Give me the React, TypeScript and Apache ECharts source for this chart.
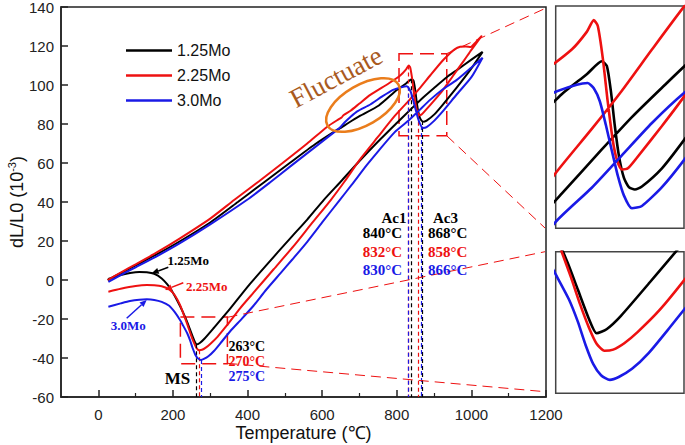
import React, { useEffect, useRef } from "react";
import * as echarts from "echarts";

type Pt = [number, number];

const seriesNames = ["1.25Mo", "2.25Mo", "3.0Mo"];
const seriesColors = ["#000000", "#ee1111", "#1a1ae6"];

// heating branches (temperature °C, dL/L0 ×10^-3)
const heating125: Pt[] = [
  [25, 0], [60, 3.5], [100, 7.5], [160, 13.5], [220, 20], [300, 29.5], [374, 40], [440, 49.5],
  [513, 60], [580, 69.5], [640, 77], [650, 78], [670, 80.5], [700, 84], [752, 89.5], [800, 97.4],
  [825, 100.8], [840, 103], [845, 102.2], [849, 98], [853, 92], [857, 87], [862, 83.2], [867, 81.6],
  [873, 81.2], [880, 81.7], [900, 84.8], [922, 89.6], [960, 98.5], [1000, 108.5], [1030, 117],
];
const cooling125: Pt[] = [
  [1030, 117], [1000, 113], [960, 107.5], [934, 104], [900, 98.5], [870, 93.5], [840, 88], [800, 80.5],
  [750, 71], [700, 61], [650, 50.5], [604, 41], [560, 31], [515, 21.5], [450, 7.5], [400, -3.5],
  [350, -15.5], [310, -24.5], [285, -30], [272, -32.3], [263, -33], [256, -30.5], [246, -25.5],
  [237, -21], [228, -17], [219, -13.3], [200, -6.5], [185, -2.3], [170, 0.8], [150, 3.2], [130, 4],
  [110, 4.1], [85, 3.6], [60, 2.6], [27, 0.5],
];
const heating225: Pt[] = [
  [25, 0], [60, 3.8], [100, 8], [160, 14.5], [220, 21.5], [300, 31.5], [364, 41], [430, 50.5],
  [494, 60], [560, 70], [613, 78.5], [645, 82.5], [652, 83.3], [657, 84.5], [676, 86.8], [700, 90.5],
  [729, 94.9], [779, 100.9], [810, 105], [825, 108], [832, 110], [836, 109], [841, 103.5], [846, 96],
  [851, 89.5], [855, 86.3], [860, 84.6], [866, 84.8], [875, 86.6], [900, 92], [922, 97], [950, 104.5],
  [980, 112.5], [1000, 118], [1027, 125],
];
const cooling225: Pt[] = [
  [1027, 125], [1012, 122], [998, 119.5], [985, 119.8], [970, 119.6], [955, 118.3], [940, 115.8],
  [922, 112.3], [890, 105], [860, 98], [830, 91.5], [794, 84], [750, 73.5], [700, 61.5], [660, 50.5],
  [623, 41], [570, 28.5], [524, 17.5], [470, 5.5], [416, -6.5], [380, -14.5], [345, -23.2], [320, -29],
  [300, -32.8], [288, -34.7], [278, -35.8], [270, -36], [263, -34.8], [256, -32], [248, -28], [240, -23.5],
  [231, -18.8], [219, -12.8], [205, -7.8], [190, -4.8], [170, -3.2], [150, -2.7], [130, -2.6],
  [100, -3.1], [60, -4.5], [27, -6],
];
const heating30: Pt[] = [
  [27, -1], [60, 2.5], [100, 6.5], [160, 12.5], [220, 19], [300, 28.5], [398, 41], [460, 50],
  [513, 58], [580, 68], [640, 77], [650, 78.6], [660, 80.8], [675, 83.5], [694, 86.5], [729, 90],
  [760, 94], [790, 97.5], [815, 99], [826, 99.3], [832, 98.4], [838, 96.2], [844, 92.2], [850, 87.8],
  [856, 83.5], [862, 80.2], [870, 78], [880, 78.4], [900, 81.6], [922, 86.2], [960, 95], [1000, 104],
  [1030, 114],
];
const cooling30: Pt[] = [
  [1030, 114], [1000, 109], [960, 102.5], [922, 97.6], [890, 92.5], [860, 87], [830, 81.5],
  [794, 75.7], [750, 66], [720, 59], [680, 49], [647, 41], [600, 29.5], [560, 19.6], [520, 10.5],
  [488, 3.4], [450, -5], [416, -13.2], [385, -19.8], [353, -26.4], [330, -31.8], [310, -36.4],
  [295, -39.1], [283, -40.5], [275, -41], [267, -40.2], [260, -38.3], [253, -35], [246, -31],
  [238, -27.2], [226, -22.9], [219, -20.5], [205, -16.5], [190, -13.2], [170, -11.2], [150, -10.2],
  [130, -9.9], [110, -10.1], [85, -10.8], [60, -12], [27, -13.7],
];

// transformation temperatures and the curve value where the marker line starts
const ac1Temps = [840, 832, 830];
const ac1Tops = [103, 110, 99.1];
const ac3Temps = [868, 858, 866];
const ac3Tops = [81.6, 84.7, 79];
const msTemps = [263, 270, 275];
const msTops = [-33, -36, -41];

// axes
const xRange = [-100, 1200];
const yRange = [-60, 140];
const xMajorTicks = [0, 200, 400, 600, 800, 1000, 1200];
const xMinorTicks = [100, 300, 500, 700, 900, 1100];

// zoom boxes (data coords) and the inset windows
const upperBoxT = [806, 934];
const upperBoxV = [74, 116];
const lowerBoxT = [220, 346];
const lowerBoxV = [-43, -19];
const upperInsetT = [794, 922];
const upperInsetV = [74.6, 112.4];
const lowerInsetT = [226, 342];
const lowerInsetV = [-43.3, -19];

const curves: Pt[][] = [
  [...heating125, ...cooling125],
  [...heating225, ...cooling225],
  [...heating30, ...cooling30],
];

const RED = "#ee1111";
const BLUE = "#1a1ae6";
const SERIF = '"Liberation Serif", "Times New Roman", serif';

function arrow(x1: number, y1: number, x2: number, y2: number, color: string) {
  const dx = x2 - x1;
  const dy = y2 - y1;
  const len = Math.hypot(dx, dy);
  const ux = dx / len;
  const uy = dy / len;
  const hl = 7;
  const hw = 3;
  const bx = x2 - ux * hl;
  const by = y2 - uy * hl;
  return [
    { type: "line", z: 100, shape: { x1, y1, x2: bx, y2: by }, style: { stroke: color, lineWidth: 1.5 } },
    {
      type: "polygon",
      z: 100,
      shape: { points: [[x2, y2], [bx - uy * hw, by + ux * hw], [bx + uy * hw, by - ux * hw]] },
      style: { fill: color },
    },
  ];
}

function txt(text: string, x: number, y: number, color: string, font: string, align = "center") {
  return {
    type: "text",
    z: 100,
    x,
    y,
    style: { text, fill: color, font, align, verticalAlign: "middle" },
  };
}

export default function App() {
  const ref = useRef<HTMLDivElement>(null);

  useEffect(() => {
    document.body.style.margin = "0";
    const chart = echarts.init(ref.current!, undefined, { renderer: "svg" });

    const mainSeries = curves.map((data, i) => ({
      name: seriesNames[i],
      type: "line",
      xAxisIndex: 0,
      yAxisIndex: 0,
      data,
      symbol: "none",
      showSymbol: false,
      smooth: 0.2,
      lineStyle: { width: 2, color: seriesColors[i] },
      itemStyle: { color: seriesColors[i] },
      z: 3 + i,
      markLine: {
        silent: true,
        symbol: ["none", "none"],
        label: { show: false },
        lineStyle: { type: [4, 3], width: 1.2, color: seriesColors[i] },
        data: [
          [{ coord: [ac1Temps[i], ac1Tops[i]] }, { coord: [ac1Temps[i], yRange[0]] }],
          [{ coord: [ac3Temps[i], ac3Tops[i]] }, { coord: [ac3Temps[i], yRange[0]] }],
          [{ coord: [msTemps[i], msTops[i]] }, { coord: [msTemps[i], yRange[0]] }],
        ],
      },
      ...(i === 0
        ? {
            markArea: {
              silent: true,
              label: { show: false },
              itemStyle: { color: "rgba(0,0,0,0)", borderColor: RED, borderWidth: 1.5, borderType: [14, 7] },
              data: [
                [{ coord: [upperBoxT[0], upperBoxV[1]] }, { coord: [upperBoxT[1], upperBoxV[0]] }],
                [{ coord: [lowerBoxT[0], lowerBoxV[1]] }, { coord: [lowerBoxT[1], lowerBoxV[0]] }],
              ],
            },
          }
        : {}),
    }));

    const insetSeries = (xi: number, yi: number) =>
      curves.map((data, i) => ({
        name: seriesNames[i],
        type: "line",
        xAxisIndex: xi,
        yAxisIndex: yi,
        data,
        symbol: "none",
        showSymbol: false,
        smooth: 0.2,
        clip: true,
        lineStyle: { width: 2.6, color: seriesColors[i] },
        itemStyle: { color: seriesColors[i] },
        z: 3 + i,
      }));

    const axisColor = "#222";
    const gridBase = { show: true, containLabel: false, outerBoundsMode: "none" };
    const option: any = {
      animation: false,
      textStyle: { fontFamily: '"Liberation Sans", Arial, sans-serif' },
      legend: {
        data: seriesNames,
        orient: "vertical",
        left: 121,
        top: 37,
        icon: "rect",
        itemWidth: 46,
        itemHeight: 2.5,
        itemGap: 8,
        textStyle: { fontSize: 16, lineHeight: 17, color: "#111" },
      },
      grid: [
        { ...gridBase, left: 61, top: 7, width: 485, height: 390, borderColor: axisColor, borderWidth: 1.5 },
        { ...gridBase, left: 555.7, top: 6, width: 128.3, height: 222.3, borderColor: "#444", borderWidth: 1.5 },
        { ...gridBase, left: 555.7, top: 251.7, width: 128.3, height: 141.6, borderColor: "#444", borderWidth: 1.5 },
      ],
      xAxis: [
        {
          gridIndex: 0,
          type: "value",
          min: xRange[0],
          max: xRange[1],
          position: "bottom",
          name: "Temperature (℃)",
          nameLocation: "middle",
          nameGap: 27,
          nameMoveOverlap: false,
          nameTextStyle: { fontSize: 18, color: "#111" },
          axisLine: { onZero: false, lineStyle: { color: axisColor, width: 1.5 } },
          axisTick: { inside: true, length: 7, customValues: xMajorTicks, lineStyle: { color: axisColor, width: 1.5 } },
          axisLabel: {
            customValues: xMajorTicks,
            fontSize: 15,
            color: "#222",
            margin: 10,
            formatter: (v: number) => String(v),
          },
          splitLine: { show: false },
        },
        {
          gridIndex: 0,
          type: "value",
          min: xRange[0],
          max: xRange[1],
          position: "bottom",
          axisLine: { show: false, onZero: false },
          axisTick: { inside: true, length: 4, customValues: xMinorTicks, lineStyle: { color: axisColor, width: 1.2 } },
          axisLabel: { show: false },
          splitLine: { show: false },
        },
        { gridIndex: 1, type: "value", min: upperInsetT[0], max: upperInsetT[1], show: false },
        { gridIndex: 2, type: "value", min: lowerInsetT[0], max: lowerInsetT[1], show: false },
      ],
      yAxis: [
        {
          gridIndex: 0,
          type: "value",
          min: yRange[0],
          max: yRange[1],
          interval: 20,
          name: "dL/L0 (10{sup|-3})",
          nameLocation: "middle",
          nameGap: 33,
          nameMoveOverlap: false,
          nameTextStyle: {
            fontSize: 18,
            color: "#111",
            lineHeight: 22,
            rich: { sup: { fontSize: 11, verticalAlign: "top", lineHeight: 12, color: "#111" } },
          },
          axisLine: { show: true, onZero: false, lineStyle: { color: axisColor, width: 1.5 } },
          axisTick: { show: true, inside: true, length: 7, lineStyle: { color: axisColor, width: 1.5 } },
          axisLabel: { fontSize: 15, color: "#222", margin: 7 },
          splitLine: { show: false },
        },
        { gridIndex: 1, type: "value", min: upperInsetV[0], max: upperInsetV[1], show: false },
        { gridIndex: 2, type: "value", min: lowerInsetV[0], max: lowerInsetV[1], show: false },
      ],
      series: [...mainSeries, ...insetSeries(2, 1), ...insetSeries(3, 2)],
      graphic: [
        // connector lines from the zoom boxes to the insets
        { type: "line", z: 90, shape: { x1: 447, y1: 53.5, x2: 545, y2: 8.5 }, style: { stroke: RED, lineWidth: 1, lineDash: [10, 6] } },
        { type: "line", z: 90, shape: { x1: 447, y1: 136, x2: 545, y2: 228 }, style: { stroke: RED, lineWidth: 1, lineDash: [10, 6] } },
        { type: "line", z: 90, shape: { x1: 227.5, y1: 317.3, x2: 545, y2: 251.7 }, style: { stroke: RED, lineWidth: 1, lineDash: [10, 6] } },
        { type: "line", z: 90, shape: { x1: 227.5, y1: 363.3, x2: 545, y2: 391.7 }, style: { stroke: RED, lineWidth: 1, lineDash: [10, 6] } },
        // fluctuation annotation
        {
          type: "ellipse",
          z: 100,
          x: 363,
          y: 105,
          rotation: Math.PI / 6,
          shape: { cx: 0, cy: 0, rx: 41, ry: 20 },
          style: { fill: "none", stroke: "#ea7d1c", lineWidth: 2.5 },
        },
        {
          type: "text",
          z: 100,
          x: 336,
          y: 77,
          rotation: (28 * Math.PI) / 180,
          style: { text: "Fluctuate", fill: "#a95a1e", font: `27px ${SERIF}`, align: "center", verticalAlign: "middle" },
        },
        // Ac1 / Ac3 labels
        txt("Ac1", 406.5, 218, "#000", `bold 15px ${SERIF}`, "right"),
        txt(`${ac1Temps[0]}°C`, 402, 233.3, "#000", `bold 15px ${SERIF}`, "right"),
        txt(`${ac1Temps[1]}°C`, 402, 251.7, RED, `bold 15px ${SERIF}`, "right"),
        txt(`${ac1Temps[2]}°C`, 402, 270, BLUE, `bold 15px ${SERIF}`, "right"),
        txt("Ac3", 433, 218, "#000", `bold 15px ${SERIF}`, "left"),
        txt(`${ac3Temps[0]}°C`, 428, 233.3, "#000", `bold 15px ${SERIF}`, "left"),
        txt(`${ac3Temps[1]}°C`, 428, 251.7, RED, `bold 15px ${SERIF}`, "left"),
        txt(`${ac3Temps[2]}°C`, 428, 270, BLUE, `bold 15px ${SERIF}`, "left"),
        // MS labels
        txt("MS", 177.5, 378, "#000", `bold 17px ${SERIF}`),
        txt(`${msTemps[0]}°C`, 228.5, 346, "#000", `bold 14px ${SERIF}`, "left"),
        txt(`${msTemps[1]}°C`, 228.5, 361.7, RED, `bold 14px ${SERIF}`, "left"),
        txt(`${msTemps[2]}°C`, 228.5, 376.7, BLUE, `bold 14px ${SERIF}`, "left"),
        // curve labels with arrows
        txt(seriesNames[0], 188.3, 260, "#000", `bold 13px ${SERIF}`),
        txt(seriesNames[1], 206.7, 286.7, RED, `bold 13px ${SERIF}`),
        txt(seriesNames[2], 128.3, 325, BLUE, `bold 13px ${SERIF}`),
        ...arrow(168.3, 267.3, 151.7, 273.3, "#000"),
        ...arrow(183.3, 282.7, 165, 290, RED),
        ...arrow(126.7, 318.3, 146.7, 300, BLUE),
      ],
    };

    chart.setOption(option);
    return () => chart.dispose();
  }, []);

  return <div ref={ref} style={{ width: 685, height: 445 }} />;
}
